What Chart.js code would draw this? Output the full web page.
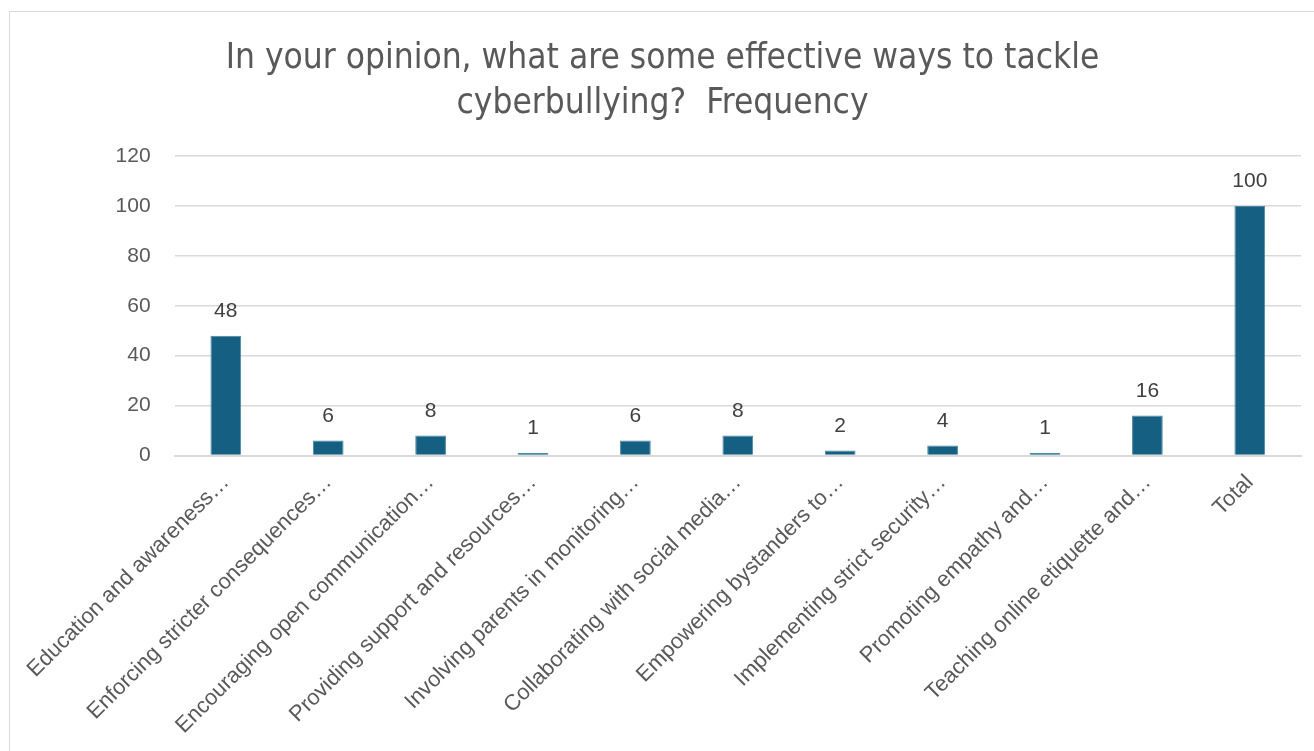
<!DOCTYPE html>
<html>
<head>
<meta charset="utf-8">
<script src="https://cdn.jsdelivr.net/npm/chart.js@4/dist/chart.umd.min.js"></script>
<style>
  html, body { margin: 0; padding: 0; background: #fff; overflow: hidden; }
  #frame {
    position: absolute; left: 9px; top: 11px;
    width: 1310px; height: 760px;
    border-left: 1px solid #d9d9d9; border-top: 1px solid #d9d9d9;
  }
  #wrap { position: absolute; left: 0; top: 0; width: 1305px; height: 741px; }
</style>
</head>
<body>
<div id="frame"><div id="wrap"><canvas id="chart"></canvas></div></div>
<script>
// Kategorien (so wie sie im Bild abgeschnitten stehen)
const categories = [
  'Education and awareness…',
  'Enforcing stricter consequences…',
  'Encouraging open communication…',
  'Providing support and resources…',
  'Involving parents in monitoring…',
  'Collaborating with social media…',
  'Empowering bystanders to…',
  'Implementing strict security…',
  'Promoting empathy and…',
  'Teaching online etiquette and…',
  'Total'
];
const frequency = [48, 6, 8, 1, 6, 8, 2, 4, 1, 16, 100];
const yTicks = [0, 20, 40, 60, 80, 100, 120];
const titleLines = ['In your opinion, what are some effective ways to tackle', 'cyberbullying?  Frequency'];

const textColor = '#595959';
const barColor = '#156082';
const fontFamily = '"Liberation Sans", Arial, sans-serif';

// Werte über den Balken
const valueLabels = {
  id: 'valueLabels',
  afterDatasetsDraw(chart) {
    const ctx = chart.ctx;
    const meta = chart.getDatasetMeta(0);
    ctx.save();
    ctx.font = '21px ' + fontFamily;
    ctx.fillStyle = '#404040';
    ctx.textAlign = 'center';
    ctx.textBaseline = 'alphabetic';
    meta.data.forEach((bar, i) => {
      ctx.fillText(String(frequency[i]), bar.x, bar.y - 19);
    });
    ctx.restore();
  }
};

new Chart(document.getElementById('chart'), {
  type: 'bar',
  data: {
    labels: categories,
    datasets: [{
      label: 'Frequency',
      data: frequency,
      backgroundColor: barColor,
      borderColor: '#4a86a5',
      borderWidth: 1,
      categoryPercentage: 1,
      barPercentage: 0.3
    }]
  },
  options: {
    responsive: true,
    maintainAspectRatio: false,
    animation: false,
    layout: { padding: { left: 14, right: 14, top: 0, bottom: 0 } },
    scales: {
      x: {
        grid: { display: false, drawTicks: false },
        border: { color: '#d9d9d9', width: 2 },
        ticks: {
          maxRotation: 45,
          minRotation: 45,
          autoSkip: false,
          padding: 14,
          color: textColor,
          font: { family: fontFamily, size: 22 }
        }
      },
      y: {
        min: 0,
        max: 120,
        afterBuildTicks: axis => { axis.ticks = yTicks.map(v => ({ value: v })); },
        afterFit: axis => { axis.width = 145; },
        grid: { color: '#d9d9d9', lineWidth: 1.5, drawTicks: false },
        border: { display: false },
        ticks: {
          padding: 24,
          color: textColor,
          font: { family: fontFamily, size: 21 }
        }
      }
    },
    plugins: {
      legend: { display: false },
      tooltip: { enabled: false },
      title: {
        display: true,
        text: titleLines,
        color: textColor,
        font: { family: '"DejaVu Sans Condensed", "Liberation Sans Narrow", sans-serif', size: 35, weight: 'normal', lineHeight: 1.3 },
        padding: { top: 24, bottom: 29 }
      }
    }
  },
  plugins: [valueLabels]
});
</script>
</body>
</html>
